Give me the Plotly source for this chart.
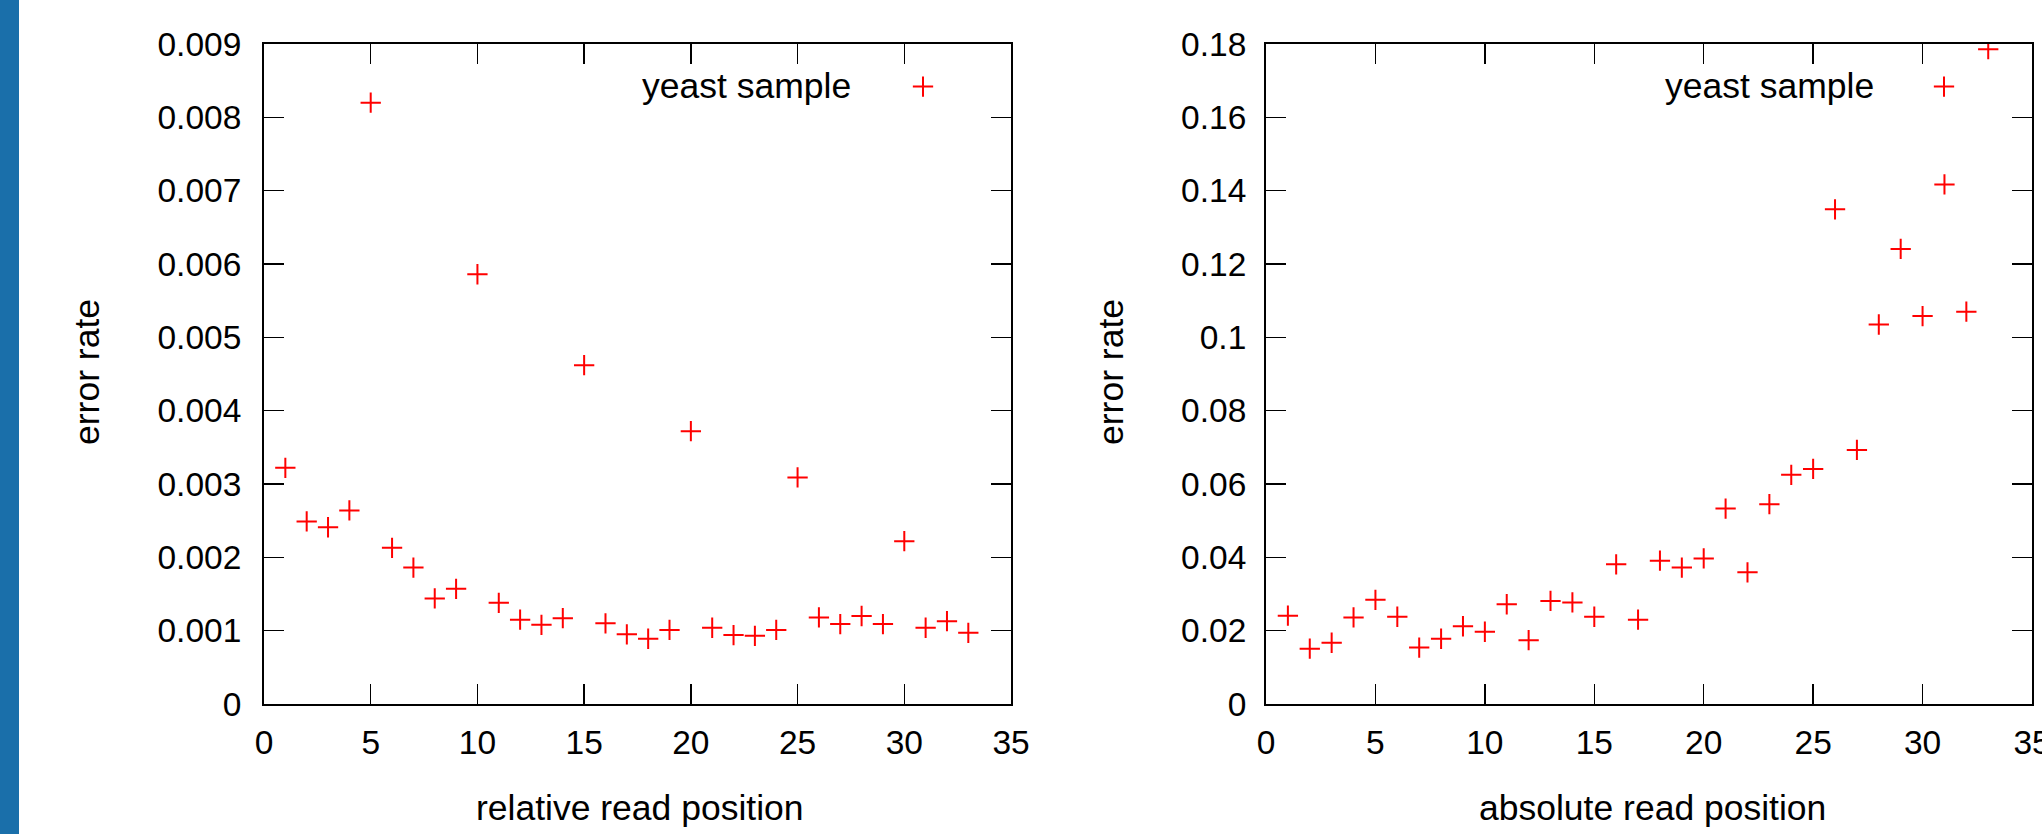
import plotly.graph_objects as go

positions = list(range(1, 34))
relative_error = [0.00322, 0.00249, 0.00241, 0.00264, 0.00820, 0.00213, 0.00186, 0.00144,
                  0.00157, 0.00586, 0.00138, 0.00115, 0.00108, 0.00117, 0.00462, 0.00110,
                  0.00095, 0.00089, 0.00101, 0.00372, 0.00104, 0.00094, 0.00093, 0.00101,
                  0.00309, 0.00118, 0.00109, 0.00120, 0.00109, 0.00222, 0.00104, 0.00113,
                  0.00097]
absolute_error = [0.0241, 0.0151, 0.0167, 0.0236, 0.0284, 0.0238, 0.0154, 0.0178, 0.0212,
                  0.0197, 0.0272, 0.0174, 0.0281, 0.0277, 0.0238, 0.0381, 0.0230, 0.0391,
                  0.0372, 0.0397, 0.0533, 0.0359, 0.0545, 0.0625, 0.0641, 0.1349, 0.0693,
                  0.1035, 0.1241, 0.1058, 0.1417, 0.1070, 0.1786]
series_name = "yeast sample"
x_ticks = [0, 5, 10, 15, 20, 25, 30, 35]
left_y_ticks = [0, 0.001, 0.002, 0.003, 0.004, 0.005, 0.006, 0.007, 0.008, 0.009]
left_y_labels = ["0", "0.001", "0.002", "0.003", "0.004", "0.005", "0.006", "0.007", "0.008", "0.009"]
right_y_ticks = [0, 0.02, 0.04, 0.06, 0.08, 0.1, 0.12, 0.14, 0.16, 0.18]
right_y_labels = ["0", "0.02", "0.04", "0.06", "0.08", "0.1", "0.12", "0.14", "0.16", "0.18"]

W, H = 2042, 834
FONT = "Liberation Sans, Arial, sans-serif"
RED = "#ff0000"
TICK_SIZE = 33.5
TEXT_SIZE = 35.5

def px_x(p):
    return p / W

def px_y(p):
    return (H - p) / H

marker = dict(symbol="cross-thin", size=14.5, color=RED, line=dict(color=RED, width=2))

fig = go.Figure()
fig.add_trace(go.Scatter(x=positions, y=relative_error, mode="markers", name=" ",
                         marker=marker, xaxis="x", yaxis="y", legend="legend", showlegend=True))
fig.add_trace(go.Scatter(x=positions, y=absolute_error, mode="markers", name=" ",
                         marker=marker, xaxis="x2", yaxis="y2", legend="legend2", showlegend=True))

axis_common = dict(showline=True, linecolor="black", linewidth=2, mirror="ticks",
                   ticks="inside", ticklen=20, tickwidth=1.5, tickcolor="black",
                   showgrid=False, zeroline=False, automargin=False,
                   ticklabeloverflow="allow",
                   tickfont=dict(family=FONT, size=TICK_SIZE, color="black"))

def text_ann(text, x, y, angle=0, anchor="center"):
    return dict(text=text, xref="paper", yref="paper", x=px_x(x), y=px_y(y),
                xanchor=anchor, yanchor="middle", textangle=angle, showarrow=False,
                font=dict(family=FONT, size=TEXT_SIZE, color="black"))

fig.update_layout(
    template="none",
    width=W, height=H,
    margin=dict(l=0, r=0, t=0, b=0, pad=0, autoexpand=False),
    paper_bgcolor="white", plot_bgcolor="white",
    font=dict(family=FONT, color="black"),
    hovermode=False,
    xaxis=dict(domain=[px_x(264), px_x(1011)], range=[0, 35], tickvals=x_ticks,
               anchor="y", ticklabelstandoff=8, **axis_common),
    yaxis=dict(domain=[px_y(704), px_y(44)], range=[0, 0.009], tickvals=left_y_ticks,
               ticktext=left_y_labels, anchor="x", ticklabelstandoff=14, **axis_common),
    xaxis2=dict(domain=[px_x(1266), px_x(2032)], range=[0, 35], tickvals=x_ticks,
                anchor="y2", ticklabelstandoff=8, **axis_common),
    yaxis2=dict(domain=[px_y(704), px_y(44)], range=[0, 0.18], tickvals=right_y_ticks,
                ticktext=right_y_labels, anchor="x2", ticklabelstandoff=11, **axis_common),
    legend=dict(x=px_x(923 - 20), y=px_y(87), xanchor="left", yanchor="middle",
                bgcolor="rgba(0,0,0,0)", borderwidth=0, font=dict(size=34, family=FONT)),
    legend2=dict(x=px_x(1944 - 20), y=px_y(87), xanchor="left", yanchor="middle",
                 bgcolor="rgba(0,0,0,0)", borderwidth=0, font=dict(size=34, family=FONT)),
    shapes=[dict(type="rect", xref="paper", yref="paper", x0=0, x1=px_x(19), y0=0, y1=1,
                 fillcolor="#1a6faa", line=dict(width=0), layer="below")],
    annotations=[
        text_ann(series_name, 853, 86, anchor="right"),
        text_ann(series_name, 1876, 86, anchor="right"),
        text_ann("relative read position", 640, 808),
        text_ann("absolute read position", 1652, 808),
        text_ann("error rate", 87, 372, angle=-90),
        text_ann("error rate", 1111, 372, angle=-90),
    ],
)

fig.write_html("out.html",
               config={"displayModeBar": False, "staticPlot": True},
               post_script="document.body.style.margin='0';document.body.style.overflow='hidden';")
